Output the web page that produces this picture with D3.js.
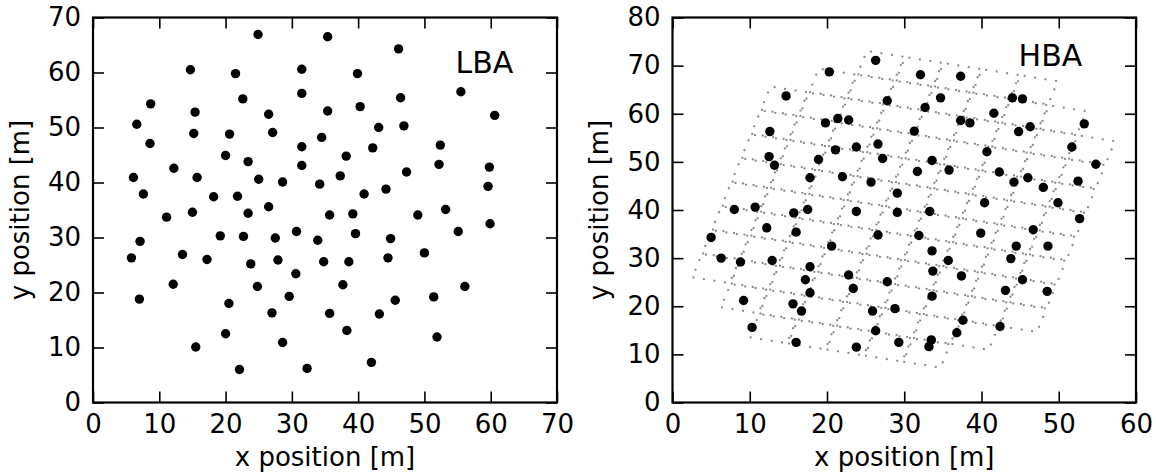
<!DOCTYPE html>
<html><head><meta charset="utf-8">
<script src="https://cdn.jsdelivr.net/npm/d3@7"></script>
<style>body{margin:0;background:#fff}svg text{font-family:"DejaVu Sans",sans-serif}</style>
</head><body>
<svg id="c" width="1156" height="475"></svg>
<script>
// ---------- data ----------
const lbaX = [24.9,35.4,14.7,21.5,31.5,31.5,22.6,8.7,35.4,15.4,26.5,6.6,15.2,20.6,27.1,34.5,8.6,20.0,31.5,23.4,31.5,12.2,6.1,15.7,25.0,28.6,34.2,7.6,18.2,21.8,26.5,11.1,15.0,23.4,35.7,
46.1,39.9,55.5,46.4,40.3,60.6,43.1,46.9,52.4,42.2,38.2,52.2,59.8,37.3,47.3,40.9,44.2,59.6,39.2,49.0,53.2,
7.1,19.2,22.7,27.5,30.7,33.9,5.8,13.5,17.2,23.8,27.9,34.8,30.6,12.1,24.8,7.0,29.6,20.5,27.0,35.7,20.0,15.5,28.6,22.1,32.3,
59.9,39.6,44.9,55.1,38.6,44.5,50.0,37.7,56.1,45.6,51.4,43.2,38.3,51.9,42.0];
const lbaY = [66.9,66.5,60.5,59.8,60.6,56.2,55.2,54.3,53.0,52.8,52.4,50.6,48.9,48.8,49.1,48.2,47.1,44.9,46.5,43.8,43.1,42.6,40.9,40.9,40.6,40.1,39.7,37.9,37.4,37.5,35.6,33.7,34.6,34.4,34.1,
64.3,59.8,56.5,55.4,53.8,52.2,50.0,50.3,46.8,46.3,44.8,43.3,42.8,41.2,41.9,37.9,38.8,39.3,34.3,34.1,35.1,
29.3,30.3,30.2,29.9,31.1,29.5,26.3,26.9,26.0,25.2,25.9,25.6,23.4,21.5,21.1,18.8,19.3,18.0,16.3,16.2,12.5,10.1,10.9,6.0,6.2,
32.5,30.7,29.8,31.1,25.6,26.3,27.2,21.4,21.1,18.6,19.2,16.1,13.1,11.9,7.3];

const hbaX = [20.3,26.3,14.7,27.8,19.8,21.4,22.8,12.6,26.6,21.1,23.8,18.9,27.2,12.5,13.2,17.8,22.0,25.7,29.1,8.0,10.7,15.7,17.5,23.8,29.1,
32.1,37.3,34.7,44.0,45.3,32.7,41.6,37.3,38.5,53.3,31.3,44.8,46.3,51.7,40.7,33.6,31.7,35.8,42.3,54.8,44.2,46.0,48.0,52.5,40.4,49.9,33.3,52.7,
5.0,12.2,16.0,26.6,20.6,6.3,8.8,12.9,17.8,17.2,22.8,23.4,17.8,27.8,9.2,15.6,16.7,25.9,28.8,10.3,26.3,16.0,23.8,29.3,
31.9,39.9,46.7,44.5,48.6,33.6,35.7,43.8,33.7,37.4,45.3,43.1,48.5,33.6,37.6,42.4,36.8,33.5,33.2];
const hbaY = [68.7,71.1,63.7,62.7,58.1,59.0,58.7,56.3,53.7,52.5,53.1,50.5,50.7,51.1,49.3,46.7,46.9,45.8,43.5,40.1,40.6,39.4,40.1,39.7,39.5,
68.1,67.8,63.3,63.3,63.1,61.3,60.1,58.6,58.1,57.9,56.4,56.3,57.3,53.1,52.1,50.3,48.0,48.3,47.9,49.5,45.8,46.7,44.7,46.0,41.5,41.5,39.7,38.2,
34.3,36.3,35.4,34.8,32.5,30.0,29.2,29.5,28.2,25.5,26.5,23.7,22.8,25.1,21.2,20.5,19.0,19.0,19.5,15.6,14.9,12.5,11.5,12.5,
34.7,35.2,35.9,32.5,32.5,31.5,29.5,29.9,27.3,26.3,25.5,23.3,23.1,22.1,17.1,15.8,14.5,13.0,11.6];

// HBA tile field: rows of tiles on a rotated grid (first column index and tile count per row)
const hbaRowFirstCol = [0,-1,-2,-2,-2,-2,-2,-2,-2,-2,-1,0];
const hbaRowCount    = [5, 7, 9, 9, 9, 9, 9, 9, 9, 9, 7, 5];
const hbaGridOrigin = [9.9, 13.5];   // m, corner of first tile of row 0
const hbaPitch = 5.13;               // m
const hbaTileSide = 4.98;            // m
const hbaAngleDeg = -14.3;

const lbaXTicks = [0,10,20,30,40,50,60,70];
const lbaYTicks = [0,10,20,30,40,50,60,70];
const hbaXTicks = [0,10,20,30,40,50,60];
const hbaYTicks = [0,10,20,30,40,50,60,70,80];

// ---------- drawing ----------
const svg = d3.select("#c");
const FS = 26;

function panel(opt){
  const x = d3.scaleLinear().domain(opt.xd).range([opt.left, opt.right]);
  const y = d3.scaleLinear().domain(opt.yd).range([opt.bottom, opt.top]);
  const g = svg.append("g");

  if (opt.extra) opt.extra(g, x, y);

  g.selectAll("circle.pt").data(opt.xs.map((v,i)=>[v,opt.ys[i]])).join("circle")
    .attr("class","pt").attr("cx",d=>x(d[0])).attr("cy",d=>y(d[1])).attr("r",4.7).attr("fill","#000");

  const styleAxis = sel => {
    sel.select(".domain").remove();
    sel.selectAll(".tick line").attr("stroke","#000").attr("stroke-width",1.6);
    sel.selectAll(".tick text").attr("fill","#000").style("font-size",FS+"px").style("font-family","'DejaVu Sans'");
  };
  g.append("g").attr("transform",`translate(0,${opt.bottom})`)
    .call(d3.axisBottom(x).tickValues(opt.xt).tickSize(-11).tickPadding(12).tickFormat(d3.format("d"))).call(styleAxis);
  g.append("g").attr("transform",`translate(0,${opt.top})`)
    .call(d3.axisTop(x).tickValues(opt.xt).tickSize(-11).tickFormat("")).call(styleAxis);
  g.append("g").attr("transform",`translate(${opt.left},0)`)
    .call(d3.axisLeft(y).tickValues(opt.yt).tickSize(-11).tickPadding(12).tickFormat(d3.format("d"))).call(styleAxis);
  g.append("g").attr("transform",`translate(${opt.right},0)`)
    .call(d3.axisRight(y).tickValues(opt.yt).tickSize(-11).tickFormat("")).call(styleAxis);

  g.append("rect").attr("x",opt.left).attr("y",opt.top).attr("width",opt.right-opt.left).attr("height",opt.bottom-opt.top)
    .attr("fill","none").attr("stroke","#000").attr("stroke-width",2.2);

  g.append("text").attr("x",(opt.left+opt.right)/2).attr("y",466).attr("text-anchor","middle")
    .style("font-size",FS+"px").text("x position [m]");
  g.append("text").attr("transform",`translate(${opt.ylabX},${(opt.top+opt.bottom)/2}) rotate(-90)`).attr("text-anchor","middle")
    .style("font-size",FS+"px").text("y position [m]");
  g.append("text").attr("x",x(opt.label[1])).attr("y",y(opt.label[2])).style("font-size","30px").text(opt.label[0]);
}

panel({left:93, right:557, top:17.5, bottom:402.5, xd:[0,70], yd:[0,70],
  xt:lbaXTicks, yt:lbaYTicks, xs:lbaX, ys:lbaY, ylabX:28.5, label:["LBA",54.7,60.0]});

panel({left:672.5, right:1136, top:17.5, bottom:402.5, xd:[0,60], yd:[0,80],
  xt:hbaXTicks, yt:hbaYTicks, xs:hbaX, ys:hbaY, ylabX:608, label:["HBA",44.8,70.0],
  extra:(g,x,y)=>{
    const a = hbaAngleDeg*Math.PI/180;
    const eu = [Math.cos(a), Math.sin(a)], ev = [-Math.sin(a), Math.cos(a)];
    const inset = (hbaPitch-hbaTileSide)/2;
    const tiles = [];
    hbaRowCount.forEach((n,r)=>{
      for(let k=0;k<n;k++){
        const c = hbaRowFirstCol[r]+k;
        const u0 = c*hbaPitch+inset, v0 = r*hbaPitch+inset, s = hbaTileSide;
        const pt = (u,v)=>[hbaGridOrigin[0]+u*eu[0]+v*ev[0], hbaGridOrigin[1]+u*eu[1]+v*ev[1]];
        tiles.push([pt(u0,v0),pt(u0+s,v0),pt(u0+s,v0+s),pt(u0,v0+s),pt(u0,v0)]);
      }
    });
    const line = d3.line().x(d=>x(d[0])).y(d=>y(d[1]));
    g.selectAll("path.tile").data(tiles).join("path").attr("class","tile").attr("d",line)
      .attr("fill","none").attr("stroke","#888").attr("stroke-width",2).attr("stroke-dasharray","2,8.6");
  }});
</script>
</body></html>
